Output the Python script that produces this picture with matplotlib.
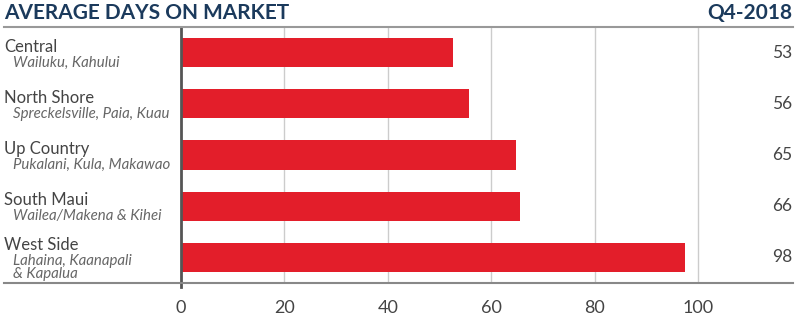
import matplotlib
matplotlib.use("Agg")
import matplotlib.pyplot as plt
from matplotlib.lines import Line2D

regions = ["Central", "North Shore", "Up Country", "South Maui", "West Side"]
subtitles = ["Wailuku, Kahului", "Spreckelsville, Paia, Kuau", "Pukalani, Kula, Makawao",
             "Wailea/Makena & Kihei", "Lahaina, Kaanapali\n& Kapalua"]
days = [52.7, 55.7, 64.8, 65.6, 97.5]
xticks = [0, 20, 40, 60, 80, 100]
title = "AVERAGE DAYS ON MARKET"
period = "Q4-2018"

plt.rcParams['font.family'] = ['Lato', 'DejaVu Sans']
navy = "#1b3a5c"
bar_red = "#e31e2a"
txt = "#444444"
sub = "#666666"

fig = plt.figure(figsize=(8, 3.22), dpi=100)
L, R, B, T = 181/800, 793/800, (322-283)/322, (322-27)/322
ax = fig.add_axes([L, B, R-L, T-B])
ypos = list(range(len(regions)))
ax.barh(ypos, days, height=0.57, color=bar_red, zorder=3)
ax.set_ylim(len(regions)-0.5, -0.5)
ax.set_xlim(0, 118.4)
ax.set_xticks(xticks)
ax.set_xticklabels([str(t) for t in xticks], fontsize=13, color=txt)
ax.tick_params(axis='x', length=0, pad=12)
ax.set_yticks([])
for s in ax.spines.values():
    s.set_visible(False)
for t in xticks[1:]:
    ax.axvline(t, color="#cccccc", lw=1, zorder=1)
ax.plot([0, 0], [-0.5, len(regions)-0.5 + 0.08], color="#555555", lw=2, zorder=4, clip_on=False)

fig.add_artist(Line2D([4/800, 793/800], [T, T], transform=fig.transFigure, color="#999999", lw=1.5))
fig.add_artist(Line2D([4/800, 793/800], [B, B], transform=fig.transFigure, color="#888888", lw=1.5))

fig.text(4/800, 1-13/322, title, fontsize=15, fontweight='bold', color=navy, va='center', ha='left')
fig.text(792/800, 1-13/322, period, fontsize=15, fontweight='bold', color=navy, va='center', ha='right')

for i, (r, s, v) in enumerate(zip(regions, subtitles, days)):
    lines = s.split("\n")
    two = len(lines) > 1
    main_off = 12 if two else 6
    ax.annotate(r, xy=(4/800, i), xycoords=('figure fraction', 'data'),
                xytext=(0, main_off), textcoords='offset pixels',
                fontsize=12, color=txt, va='center', ha='left')
    start = -4 if two else -10
    for k, line in enumerate(lines):
        ax.annotate(line, xy=(13/800, i), xycoords=('figure fraction', 'data'),
                    xytext=(0, start - 13*k), textcoords='offset pixels',
                    fontsize=10.8, color=sub, style='italic', va='center', ha='left')
    ax.annotate(f"{v:.0f}", xy=(792/800, i), xycoords=('figure fraction', 'data'),
                fontsize=12.5, color=txt, va='center', ha='right')

fig.savefig("out.png", dpi=100)
